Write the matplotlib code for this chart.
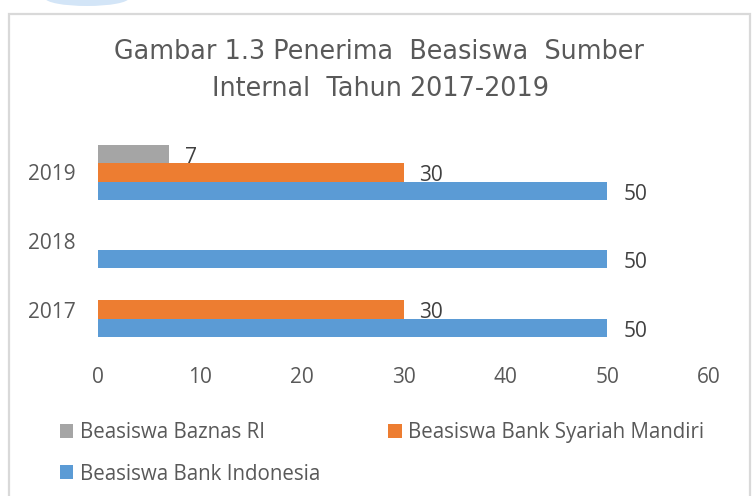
import matplotlib
matplotlib.use("Agg")
import matplotlib.pyplot as plt
from matplotlib.patches import Rectangle, Ellipse
import numpy as np

years = ["2017", "2018", "2019"]
series_names = ["Beasiswa Bank Indonesia", "Beasiswa Bank Syariah Mandiri", "Beasiswa Baznas RI"]
bank_indonesia = [50, 50, 50]
syariah_mandiri = [30, 0, 30]
baznas = [0, 0, 7]
xticks = [0, 10, 20, 30, 40, 50, 60]

colors = ["#5B9BD5", "#ED7D31", "#A5A5A5"]
text_color = "#595959"

plt.rcParams['font.family'] = ['Open Sans', 'DejaVu Sans']

fig = plt.figure(figsize=(7.55, 4.96), dpi=100)
ax = fig.add_axes([98/755, 1-343.75/496, 611/755, (343.75-138.25)/496])

y = np.arange(len(years))
h = 0.267
data = [bank_indonesia, syariah_mandiri, baznas]
offsets = [-h, 0, h]
handles = []
for vals, off, c, name in zip(data, offsets, colors, series_names):
    bars = ax.barh(y + off, vals, height=h, color=c, label=name)
    handles.append(bars)
    for yy, v in zip(y + off, vals):
        if v:
            ax.annotate(str(v), (v, yy), xytext=(11.5, -2.5), textcoords='offset points',
                        ha='left', va='center', fontsize=15, color="#404040")

ax.set_xlim(0, 60)
ax.set_ylim(-0.5, 2.5)
ax.set_xticks(xticks)
ax.set_xticklabels([str(t) for t in xticks])
ax.set_yticks(y)
ax.set_yticklabels(years)
ax.tick_params(axis='both', length=0, labelsize=15, labelcolor=text_color)
ax.tick_params(axis='y', pad=16)
ax.tick_params(axis='x', pad=17)
for s in ax.spines.values():
    s.set_visible(False)

# Title
fig.text(379/755, 1-52/496, "Gambar 1.3 Penerima  Beasiswa  Sumber", ha='center', va='center',
         fontsize=18.4, color=text_color, family='DejaVu Sans')
fig.text(381/755, 1-89/496, "Internal  Tahun 2017-2019", ha='center', va='center',
         fontsize=18.4, color=text_color, family='DejaVu Sans')

# Legend (row-wise order: Baznas, Syariah / Bank Indonesia)
leg = fig.legend([handles[2], handles[0], handles[1]],
                 [series_names[2], series_names[0], series_names[1]],
                 ncol=2, loc='upper left', bbox_to_anchor=(60/755, 1-422/496),
                 frameon=False, fontsize=14.8, handlelength=0.65, handleheight=0.65,
                 handletextpad=0.33, columnspacing=3.3, labelspacing=1.0,
                 borderpad=0, borderaxespad=0)
for t in leg.get_texts():
    t.set_color(text_color)

# Chart border and decoration
fig.patches.append(Rectangle((9/755, -0.02), (750-9)/755, 0.02+1-14/496, transform=fig.transFigure,
                             fill=False, edgecolor="#d9d9d9", linewidth=1.6))
fig.patches.append(Ellipse((87/755, 1+2/496), 84/755, 16/496, transform=fig.transFigure,
                           facecolor="#d3e5f7", edgecolor="none"))

fig.savefig("out.png", dpi=100)
